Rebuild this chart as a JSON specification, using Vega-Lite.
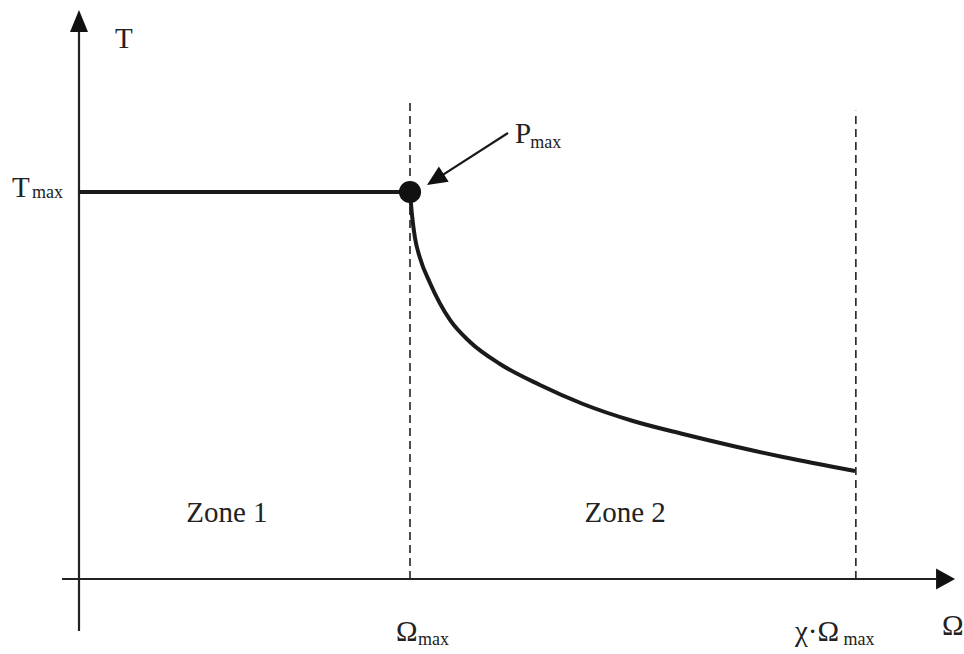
{
  "$schema": "https://vega.github.io/schema/vega-lite/v6.json",
  "width": 964,
  "height": 654,
  "autosize": {"type": "none"},
  "padding": 0,
  "background": "white",
  "config": {"view": {"stroke": null}},
  "datasets": {
    "dashed": [
      {"omega": 1.0, "t0": 0, "t1": 1.23},
      {"omega": 2.347, "t0": 0, "t1": 1.21}
    ],
    "axes": [
      {"x0": -0.0514, "y0": 0, "x1": 2.59, "y1": 0},
      {"x0": 0, "y0": -0.1344, "x1": 0, "y1": 1.42}
    ],
    "flat": [
      {"omega": 0, "torque": 1},
      {"omega": 1, "torque": 1}
    ],
    "curve": [
      {"omega": 1.0, "torque": 1.0},
      {"omega": 1.006, "torque": 0.9406},
      {"omega": 1.0151, "torque": 0.8811},
      {"omega": 1.0302, "torque": 0.8295},
      {"omega": 1.0604, "torque": 0.7649},
      {"omega": 1.1208, "torque": 0.6693},
      {"omega": 1.1813, "torque": 0.6124},
      {"omega": 1.2719, "torque": 0.5556},
      {"omega": 1.3927, "torque": 0.5013},
      {"omega": 1.5227, "torque": 0.4522},
      {"omega": 1.6737, "torque": 0.4083},
      {"omega": 1.8248, "torque": 0.3747},
      {"omega": 1.9758, "torque": 0.3437},
      {"omega": 2.1269, "torque": 0.3152},
      {"omega": 2.3444, "torque": 0.2791}
    ],
    "pmax": [{"omega": 1, "torque": 1}],
    "pointer": [{"x0": 1.296, "y0": 1.1525, "x1": 1.0767, "y1": 1.032}],
    "pointerHead": [{"omega": 1.0767, "torque": 1.032}],
    "yHead": [{"omega": 0, "torque": 1.4419}],
    "xHead": [{"omega": 2.618, "torque": 0}],
    "mainLabels": [
      {"label": "T", "omega": 0.109, "torque": 1.372},
      {"label": "T", "omega": -0.2024, "torque": 0.987},
      {"label": "P", "omega": 1.317, "torque": 1.127},
      {"label": "Ω", "omega": 0.958, "torque": -0.160},
      {"label": "χ·Ω", "omega": 2.163, "torque": -0.160},
      {"label": "Ω", "omega": 2.607, "torque": -0.1447}
    ],
    "subLabels": [
      {"label": "max", "omega": -0.142, "torque": 0.984},
      {"label": "max", "omega": 1.363, "torque": 1.114},
      {"label": "max", "omega": 1.024, "torque": -0.171},
      {"label": "max", "omega": 2.31, "torque": -0.171}
    ],
    "zones": [
      {"label": "Zone 1", "omega": 0.447, "torque": 0.147},
      {"label": "Zone 2", "omega": 1.65, "torque": 0.147}
    ]
  },
  "encoding": {
    "x": {"type": "quantitative", "scale": {"domain": [-0.23867, 2.67372], "nice": false, "zero": false}, "axis": null},
    "y": {"type": "quantitative", "scale": {"domain": [-0.1938, 1.49612], "nice": false, "zero": false}, "axis": null}
  },
  "layer": [
    {
      "data": {"name": "dashed"},
      "mark": {"type": "rule", "color": "#222", "strokeWidth": 1.6, "strokeDash": [8, 5]},
      "encoding": {"x": {"field": "omega"}, "y": {"field": "t0"}, "y2": {"field": "t1"}}
    },
    {
      "data": {"name": "axes"},
      "mark": {"type": "rule", "color": "#222", "strokeWidth": 2.2},
      "encoding": {"x": {"field": "x0"}, "y": {"field": "y0"}, "x2": {"field": "x1"}, "y2": {"field": "y1"}}
    },
    {
      "data": {"name": "yHead"},
      "mark": {"type": "point", "filled": true, "opacity": 1, "color": "#111", "size": 484, "shape": "M0,-1L-0.818,1L0.818,1Z"},
      "encoding": {"x": {"field": "omega"}, "y": {"field": "torque"}}
    },
    {
      "data": {"name": "xHead"},
      "mark": {"type": "point", "filled": true, "opacity": 1, "color": "#111", "size": 361, "shape": "M1,0L-1,-1.1L-1,1.1Z"},
      "encoding": {"x": {"field": "omega"}, "y": {"field": "torque"}}
    },
    {
      "data": {"name": "flat"},
      "mark": {"type": "line", "color": "#1a1a1a", "strokeWidth": 4, "strokeCap": "butt"},
      "encoding": {"x": {"field": "omega"}, "y": {"field": "torque"}}
    },
    {
      "data": {"name": "curve"},
      "mark": {"type": "line", "color": "#1a1a1a", "strokeWidth": 4, "interpolate": "monotone"},
      "encoding": {"x": {"field": "omega"}, "y": {"field": "torque"}}
    },
    {
      "data": {"name": "pmax"},
      "mark": {"type": "point", "filled": true, "opacity": 1, "color": "#111", "size": 491, "shape": "circle"},
      "encoding": {"x": {"field": "omega"}, "y": {"field": "torque"}}
    },
    {
      "data": {"name": "pointer"},
      "mark": {"type": "rule", "color": "#1a1a1a", "strokeWidth": 2.2},
      "encoding": {"x": {"field": "x0"}, "y": {"field": "y0"}, "x2": {"field": "x1"}, "y2": {"field": "y1"}}
    },
    {
      "data": {"name": "pointerHead"},
      "mark": {"type": "point", "filled": true, "opacity": 1, "color": "#111", "size": 400, "angle": 237, "shape": "M0,-1L-0.9,1L0.9,1Z"},
      "encoding": {"x": {"field": "omega"}, "y": {"field": "torque"}}
    },
    {
      "data": {"name": "mainLabels"},
      "mark": {"type": "text", "font": "Liberation Serif", "fontSize": 29, "color": "#222", "align": "left", "baseline": "alphabetic"},
      "encoding": {"x": {"field": "omega"}, "y": {"field": "torque"}, "text": {"field": "label"}}
    },
    {
      "data": {"name": "subLabels"},
      "mark": {"type": "text", "font": "Liberation Serif", "fontSize": 18, "color": "#222", "align": "left", "baseline": "alphabetic"},
      "encoding": {"x": {"field": "omega"}, "y": {"field": "torque"}, "text": {"field": "label"}}
    },
    {
      "data": {"name": "zones"},
      "mark": {"type": "text", "font": "Liberation Serif", "fontSize": 29, "color": "#222", "align": "center", "baseline": "alphabetic"},
      "encoding": {"x": {"field": "omega"}, "y": {"field": "torque"}, "text": {"field": "label"}}
    }
  ]
}
